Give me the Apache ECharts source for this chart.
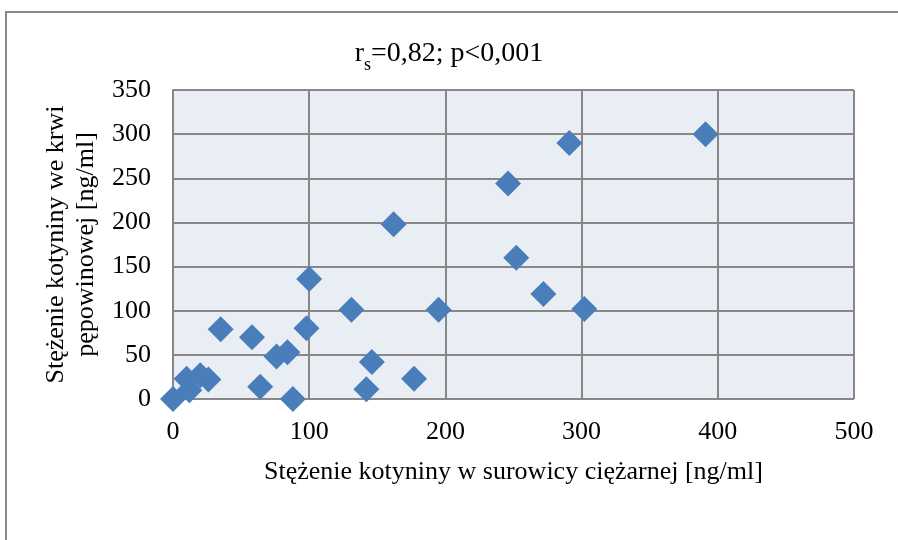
<!DOCTYPE html>
<html>
<head>
<meta charset="utf-8">
<script src="https://cdn.jsdelivr.net/npm/echarts@6/dist/echarts.min.js"></script>
<style>
  html, body { margin: 0; padding: 0; background: #fff; }
  #chart { width: 898px; height: 540px; }
</style>
</head>
<body>
<div id="chart"></div>
<script>
// Cotinine in maternal serum (x) vs. umbilical cord blood (y), ng/ml
const serumValues = [0, 10, 12, 20, 26, 35, 58, 64, 76, 84, 88, 98, 100, 131, 142, 146, 162, 177, 195, 246, 252, 272, 291, 302, 391];
const cordValues  = [0, 23, 10, 27, 22, 79, 70, 14, 48, 53, 0, 80, 136, 101, 11, 42, 198, 23, 101, 244, 160, 119, 290, 102, 300];
const xTicks = [0, 100, 200, 300, 400, 500];
const yTicks = [0, 50, 100, 150, 200, 250, 300, 350];

const points = serumValues.map((x, i) => [x, cordValues[i]]);
const font = 'Liberation Serif';

const chart = echarts.init(document.getElementById('chart'), null, { renderer: 'canvas' });
chart.setOption({
  animation: false,
  backgroundColor: '#ffffff',
  title: {
    text: '{a|r}{s|s}{a|=0,82; p<0,001}',
    left: 'center',
    top: 35,
    textStyle: {
      fontWeight: 'normal',
      rich: {
        a: { fontFamily: font, fontSize: 28, fontWeight: 'normal', color: '#000', lineHeight: 33, verticalAlign: 'top' },
        s: { fontFamily: font, fontSize: 18, fontWeight: 'normal', color: '#000', lineHeight: 18, padding: [16, 0, 0, 0], verticalAlign: 'top' }
      }
    }
  },
  graphic: [{
    type: 'rect',
    shape: { x: 6, y: 12, width: 1000, height: 1000 },
    style: { fill: 'none', stroke: '#888888', lineWidth: 2 },
    silent: true,
    z: -1
  }],
  grid: {
    left: 173, right: 44, top: 90, bottom: 141,
    show: true,
    backgroundColor: '#e9edf4',
    borderWidth: 0
  },
  xAxis: {
    type: 'value',
    min: xTicks[0], max: xTicks[xTicks.length - 1], interval: 100,
    name: 'Stężenie kotyniny w surowicy ciężarnej [ng/ml]',
    nameLocation: 'middle',
    nameGap: 60,
    nameTextStyle: { fontFamily: font, fontSize: 26, color: '#000' },
    axisLine: { show: false },
    axisTick: { show: false },
    axisLabel: { fontFamily: font, fontSize: 26, color: '#000', margin: 20 },
    splitLine: { show: true, lineStyle: { color: '#888888', width: 2 } }
  },
  yAxis: {
    type: 'value',
    min: yTicks[0], max: yTicks[yTicks.length - 1], interval: 50,
    name: 'Stężenie kotyniny we krwi\npępowinowej [ng/ml]',
    nameLocation: 'middle',
    nameGap: 69,
    nameRotate: 90,
    nameTextStyle: { fontFamily: font, fontSize: 26, color: '#000', lineHeight: 30 },
    axisLine: { show: true, lineStyle: { color: '#888888', width: 2 } },
    axisTick: { show: false },
    axisLabel: { fontFamily: font, fontSize: 26, color: '#000', margin: 22 },
    splitLine: { show: true, lineStyle: { color: '#888888', width: 2 } }
  },
  series: [{
    type: 'scatter',
    data: points,
    symbol: 'diamond',
    symbolSize: [26, 26],
    clip: false,
    itemStyle: { color: '#4a7ebb', opacity: 1 }
  }]
});
</script>
</body>
</html>
